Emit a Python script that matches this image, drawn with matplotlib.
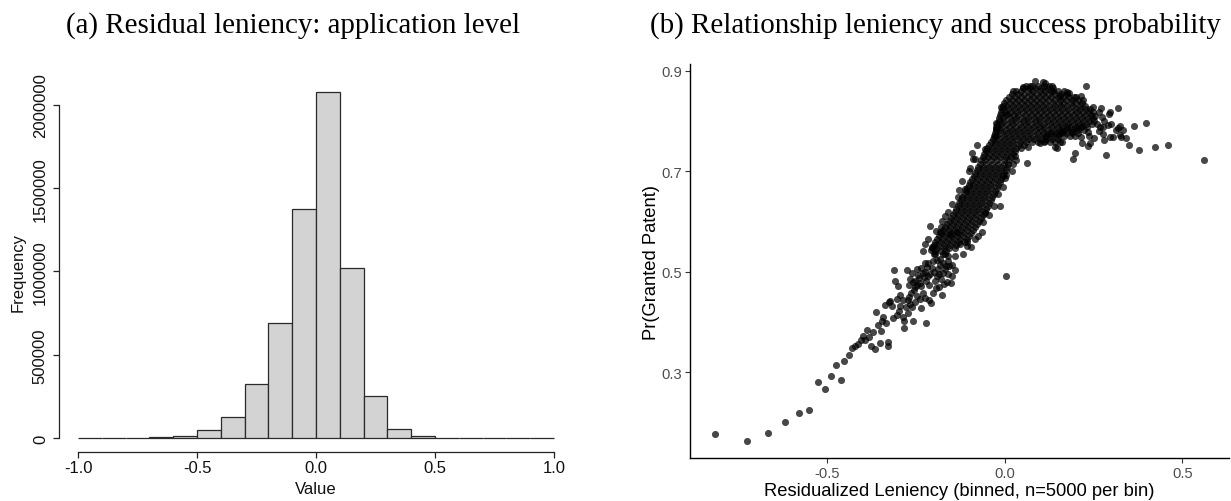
import matplotlib
matplotlib.use("Agg")
import matplotlib.pyplot as plt
import numpy as np

# ---------------- Panel (a): histogram of residual leniency ----------------
bin_edges = [-1.0, -0.9, -0.8, -0.7, -0.6, -0.5, -0.4, -0.3, -0.2, -0.1, 0.0,
             0.1, 0.2, 0.3, 0.4, 0.5, 0.6, 0.7, 0.8, 0.9, 1.0]
bin_counts = [0, 3000, 3000, 6000, 14000, 48000, 126000, 324000, 691000, 1375000,
              2078000, 1023000, 252000, 52000, 12000, 2000, 0, 0, 0, 0]
hist_xticks = [-1.0, -0.5, 0.0, 0.5, 1.0]
hist_xlabels = ["-1.0", "-0.5", "0.0", "0.5", "1.0"]
hist_yticks = [0, 500000, 1000000, 1500000, 2000000]
hist_ylabels = ["0", "500000", "1000000", "1500000", "2000000"]

# ---------------- Panel (b): binned leniency vs. grant probability ----------------
# sparse lower tail
tail_bins = [
    (-0.817, 0.177), (-0.726, 0.163), (-0.666, 0.179), (-0.619, 0.201), (-0.580, 0.218),
    (-0.551, 0.224), (-0.527, 0.280), (-0.507, 0.266), (-0.491, 0.293), (-0.476, 0.315),
    (-0.462, 0.285), (-0.452, 0.322), (-0.440, 0.334), (-0.430, 0.347), (-0.421, 0.352),
    (-0.413, 0.356), (-0.406, 0.364), (-0.401, 0.372), (-0.394, 0.364), (-0.389, 0.384),
    (-0.382, 0.369), (-0.377, 0.352), (-0.372, 0.379), (-0.366, 0.346), (-0.363, 0.419),
    (-0.358, 0.394), (-0.353, 0.358), (-0.349, 0.382), (-0.346, 0.402), (-0.343, 0.409),
    (-0.338, 0.433), (-0.335, 0.397), (-0.330, 0.352), (-0.329, 0.359), (-0.326, 0.440),
]

# rising band, individually visible bins
band_bins = [
    (-0.324, 0.441), (-0.315, 0.407), (-0.319, 0.432), (-0.305, 0.413), (-0.298, 0.422),
    (-0.285, 0.388), (-0.285, 0.402), (-0.288, 0.410), (-0.273, 0.417), (-0.258, 0.402),
    (-0.263, 0.429), (-0.237, 0.427), (-0.223, 0.398), (-0.296, 0.454), (-0.288, 0.443),
    (-0.274, 0.443), (-0.270, 0.450), (-0.265, 0.457), (-0.256, 0.463), (-0.248, 0.474),
    (-0.249, 0.452), (-0.232, 0.457), (-0.213, 0.444), (-0.209, 0.437), (-0.202, 0.457),
    (-0.185, 0.469), (-0.177, 0.453), (-0.164, 0.479), (-0.153, 0.477), (-0.140, 0.504),
    (-0.150, 0.492), (-0.313, 0.503), (-0.277, 0.504), (-0.310, 0.482), (-0.301, 0.472),
    (-0.268, 0.486), (-0.254, 0.482), (-0.239, 0.478), (-0.221, 0.482), (-0.216, 0.518),
    (-0.206, 0.508), (-0.192, 0.492), (-0.188, 0.505), (-0.174, 0.498), (-0.166, 0.512),
    (-0.160, 0.495), (-0.247, 0.505), (-0.237, 0.508), (-0.225, 0.500), (-0.241, 0.488),
    (-0.262, 0.497), (-0.228, 0.489), (-0.211, 0.495), (-0.197, 0.481), (-0.180, 0.485),
    (-0.203, 0.521), (-0.183, 0.513), (-0.259, 0.479), (-0.220, 0.509), (-0.172, 0.475),
    (-0.270, 0.473), (-0.161, 0.521), (-0.149, 0.513),
    (-0.245, 0.494), (-0.231, 0.497), (-0.217, 0.491), (-0.200, 0.499), (-0.186, 0.496),
    (-0.170, 0.505), (-0.252, 0.469), (-0.236, 0.471), (-0.215, 0.473), (-0.195, 0.468),
    (-0.226, 0.518), (-0.192, 0.522), (-0.175, 0.518), (-0.280, 0.430), (-0.268, 0.436),
    (-0.252, 0.440), (-0.240, 0.445), (-0.225, 0.448), (-0.296, 0.432), (-0.305, 0.445),
    (-0.216, 0.565), (-0.208, 0.543), (-0.197, 0.535), (-0.183, 0.525), (-0.174, 0.535),
    (-0.161, 0.530), (-0.157, 0.512), (-0.127, 0.555), (-0.108, 0.558), (-0.085, 0.565),
    (-0.183, 0.578), (-0.155, 0.575), (-0.136, 0.578), (-0.211, 0.590), (-0.206, 0.548),
    (-0.169, 0.611), (-0.179, 0.588), (-0.141, 0.531), (-0.107, 0.551), (-0.160, 0.618),
    (-0.132, 0.648), (-0.113, 0.664), (-0.089, 0.724), (-0.061, 0.598), (-0.066, 0.579),
    (-0.055, 0.616), (-0.014, 0.630), (0.000, 0.687), (0.003, 0.693), (-0.080, 0.752),
    (-0.085, 0.724), (-0.099, 0.707), (-0.056, 0.744), (0.003, 0.492),
    (-0.120, 0.680), (-0.128, 0.662), (-0.100, 0.700), (-0.093, 0.735), (-0.150, 0.635),
    (-0.178, 0.600), (-0.195, 0.580), (-0.225, 0.555), (-0.230, 0.540), (-0.020, 0.655),
    (-0.005, 0.668), (-0.030, 0.630), (-0.045, 0.612), (-0.075, 0.570), (-0.095, 0.548),
    (-0.118, 0.535), (0.020, 0.700), (0.030, 0.722),
]

# edge of the peak and the upper tail
peak_bins = [
    (0.085, 0.880), (0.106, 0.877), (0.052, 0.867), (0.023, 0.860), (0.070, 0.870),
    (0.132, 0.870), (0.136, 0.860), (0.155, 0.850), (0.174, 0.857), (-0.011, 0.828),
    (0.005, 0.813), (-0.023, 0.787), (-0.028, 0.770), (0.061, 0.717), (0.023, 0.714),
    (0.028, 0.730), (0.066, 0.747), (0.099, 0.755), (0.113, 0.760), (0.141, 0.747),
    (0.155, 0.757), (0.150, 0.774), (0.174, 0.787), (0.181, 0.855), (0.200, 0.847),
    (0.221, 0.842), (0.227, 0.870), (0.249, 0.827), (0.266, 0.818), (0.296, 0.818),
    (0.317, 0.825), (0.272, 0.807), (0.258, 0.794), (0.268, 0.787), (0.291, 0.792),
    (0.277, 0.774), (0.305, 0.767), (0.280, 0.762), (0.252, 0.766), (0.235, 0.777),
    (0.213, 0.767), (0.217, 0.756), (0.235, 0.750), (0.197, 0.736), (0.192, 0.724),
    (0.285, 0.732), (0.313, 0.782), (0.324, 0.789), (0.332, 0.782), (0.341, 0.765),
    (0.350, 0.752), (0.363, 0.790), (0.377, 0.742), (0.397, 0.796), (0.423, 0.747),
    (0.460, 0.752), (0.561, 0.722), (0.160, 0.758), (0.164, 0.780), (-0.025, 0.796),
    (-0.025, 0.784), (0.237, 0.770), (0.296, 0.767), (0.265, 0.780), (0.276, 0.788),
    (0.254, 0.810), (0.279, 0.800), (0.299, 0.794), (0.318, 0.785), (0.328, 0.768),
    (0.239, 0.755), (0.146, 0.746), (0.117, 0.769), (0.130, 0.776), (0.158, 0.777),
    (0.189, 0.777), (0.203, 0.786), (0.217, 0.790), (0.114, 0.876), (0.214, 0.850),
    (0.293, 0.813), (0.249, 0.817), (0.270, 0.825), (0.324, 0.771),
]

# dense core: (Pr(granted), [leniency values of the bins at that level])
core_rows = [
    (0.870, [0.058, 0.075, 0.092, 0.109, 0.124]),
    (0.865, [0.050, 0.067, 0.084, 0.101, 0.118, 0.134]),
    (0.859, [0.030, 0.046, 0.064, 0.080, 0.098, 0.114, 0.131, 0.148, 0.165]),
    (0.853, [0.020, 0.038, 0.055, 0.072, 0.089, 0.106, 0.123, 0.140, 0.157, 0.174]),
    (0.847, [0.011, 0.029, 0.045, 0.063, 0.080, 0.096, 0.114, 0.130, 0.148, 0.164, 0.181, 0.195]),
    (0.841, [0.003, 0.020, 0.037, 0.054, 0.071, 0.088, 0.105, 0.122, 0.139, 0.156, 0.173,
             0.190, 0.207]),
    (0.835, [-0.003, 0.015, 0.031, 0.049, 0.066, 0.082, 0.100, 0.116, 0.134, 0.151, 0.167,
             0.185, 0.201, 0.216]),
    (0.829, [-0.006, 0.006, 0.023, 0.040, 0.057, 0.074, 0.091, 0.108, 0.125, 0.142, 0.159,
             0.176, 0.193, 0.210, 0.226]),
    (0.823, [-0.008, 0.009, 0.025, 0.043, 0.060, 0.077, 0.093, 0.111, 0.127, 0.145, 0.162,
             0.178, 0.196, 0.212, 0.229, 0.240]),
    (0.817, [-0.011, 0.000, 0.017, 0.034, 0.051, 0.068, 0.085, 0.102, 0.119, 0.136, 0.153,
             0.170, 0.187, 0.204, 0.221, 0.236]),
    (0.811, [-0.013, 0.004, 0.022, 0.038, 0.056, 0.072, 0.090, 0.106, 0.124, 0.141, 0.157,
             0.175, 0.191, 0.209, 0.225, 0.243]),
    (0.805, [-0.016, -0.005, 0.013, 0.030, 0.047, 0.064, 0.081, 0.098, 0.115, 0.132, 0.149,
             0.166, 0.183, 0.200, 0.217, 0.234, 0.248]),
    (0.799, [-0.018, -0.002, 0.016, 0.032, 0.050, 0.066, 0.084, 0.100, 0.118, 0.134, 0.152,
             0.168, 0.186, 0.202, 0.220, 0.236, 0.251]),
    (0.793, [-0.021, -0.010, 0.007, 0.024, 0.041, 0.058, 0.075, 0.092, 0.109, 0.126, 0.143,
             0.160, 0.177, 0.194, 0.211, 0.228, 0.244]),
    (0.787, [-0.024, -0.007, 0.011, 0.027, 0.044, 0.061, 0.078, 0.095, 0.111, 0.129, 0.146,
             0.162, 0.180, 0.197, 0.213, 0.231]),
    (0.781, [-0.026, -0.015, 0.002, 0.019, 0.036, 0.053, 0.070, 0.087, 0.104, 0.121, 0.138,
             0.155, 0.172, 0.189, 0.206, 0.222]),
    (0.775, [-0.029, -0.013, 0.004, 0.021, 0.038, 0.055, 0.071, 0.089, 0.106, 0.122, 0.140,
             0.157, 0.173, 0.190, 0.207]),
    (0.769, [-0.032, -0.021, -0.004, 0.013, 0.030, 0.047, 0.064, 0.081, 0.098, 0.115, 0.132,
             0.149, 0.166, 0.183, 0.198]),
    (0.763, [-0.035, -0.019, -0.002, 0.015, 0.032, 0.048, 0.066, 0.083, 0.099, 0.117, 0.133, 0.150]),
    (0.757, [-0.040, -0.027, -0.010, 0.007, 0.024, 0.041, 0.058, 0.075, 0.092, 0.109, 0.126, 0.142]),
    (0.751, [-0.046, -0.029, -0.012, 0.005, 0.022, 0.039, 0.054]),
    (0.745, [-0.050, -0.037, -0.020, -0.004, 0.013, 0.030, 0.045]),
    (0.739, [-0.054, -0.037, -0.020, -0.003, 0.013, 0.027]),
    (0.733, [-0.058, -0.045, -0.028, -0.011, 0.006, 0.022]),
    (0.727, [-0.063, -0.047, -0.030, -0.013, 0.004, 0.018]),
    (0.721, [-0.067, -0.055, -0.038, -0.021, -0.004, 0.012]),
    (0.715, [-0.071, -0.054, -0.037, -0.020, -0.004, 0.010]),
    (0.709, [-0.075, -0.062, -0.045, -0.028, -0.011, 0.005]),
    (0.703, [-0.080, -0.063, -0.046, -0.029, -0.012, 0.002]),
    (0.697, [-0.084, -0.071, -0.054, -0.037, -0.020, -0.003]),
    (0.691, [-0.088, -0.071, -0.054, -0.037, -0.020, -0.005]),
    (0.685, [-0.093, -0.079, -0.062, -0.045, -0.028, -0.010]),
    (0.679, [-0.098, -0.082, -0.065, -0.048, -0.031, -0.014]),
    (0.673, [-0.102, -0.090, -0.073, -0.056, -0.039, -0.019]),
    (0.667, [-0.107, -0.091, -0.074, -0.057, -0.040, -0.023]),
    (0.661, [-0.111, -0.099, -0.082, -0.065, -0.048, -0.028]),
    (0.655, [-0.116, -0.099, -0.082, -0.065, -0.048, -0.032]),
    (0.649, [-0.120, -0.107, -0.090, -0.073, -0.056, -0.036]),
    (0.643, [-0.124, -0.108, -0.091, -0.074, -0.057, -0.040]),
    (0.637, [-0.128, -0.116, -0.099, -0.082, -0.065, -0.044]),
    (0.631, [-0.133, -0.116, -0.099, -0.082, -0.065, -0.048]),
    (0.625, [-0.137, -0.124, -0.107, -0.090, -0.073, -0.053]),
    (0.619, [-0.141, -0.124, -0.107, -0.090, -0.073, -0.057]),
    (0.613, [-0.146, -0.132, -0.115, -0.098, -0.081, -0.062]),
    (0.607, [-0.152, -0.136, -0.119, -0.102, -0.085, -0.068]),
    (0.601, [-0.157, -0.144, -0.127, -0.110, -0.093, -0.074]),
    (0.595, [-0.163, -0.147, -0.130, -0.113, -0.096, -0.080]),
    (0.589, [-0.168, -0.155, -0.138, -0.121, -0.104, -0.085]),
    (0.583, [-0.174, -0.158, -0.141, -0.124, -0.107, -0.090]),
    (0.577, [-0.179, -0.166, -0.149, -0.132, -0.115, -0.096]),
    (0.571, [-0.185, -0.169, -0.152, -0.135, -0.118, -0.101]),
    (0.565, [-0.190, -0.177, -0.160, -0.143, -0.126, -0.107]),
    (0.559, [-0.196, -0.180, -0.163, -0.146, -0.129, -0.113]),
    (0.553, [-0.201, -0.188, -0.171, -0.154, -0.137]),
    (0.547, [-0.206, -0.190, -0.173, -0.157, -0.140]),
    (0.541, [-0.198, -0.181, -0.165]),
    (0.535, [-0.200, -0.168]),
]

scatter_xticks = [-0.5, 0.0, 0.5]
scatter_xlabels = ["-0.5", "0.0", "0.5"]
scatter_yticks = [0.3, 0.5, 0.7, 0.9]
scatter_ylabels = ["0.3", "0.5", "0.7", "0.9"]

# ---------------- figure ----------------
W, H = 1231, 502
fig = plt.figure(figsize=(W / 100, H / 100), dpi=100)
fig.patch.set_facecolor("white")
SANS = "Liberation Sans"
SERIF = "Liberation Serif"


def frac_box(left, top, right, bottom):
    return [left / W, (H - bottom) / H, (right - left) / W, (bottom - top) / H]


# (a) base-graphics style histogram
ax1 = fig.add_axes(frac_box(59, 79, 573, 453))
edges = np.array(bin_edges)
ax1.bar(edges[:-1], bin_counts, width=np.diff(edges), align="edge",
        color="#d3d3d3", edgecolor="#2a2a2a", linewidth=0.9)
peak = max(bin_counts)
ax1.set_xlim(-1.08, 1.08)
ax1.set_ylim(-0.04 * peak, 1.04 * peak)
for side in ("top", "right"):
    ax1.spines[side].set_visible(False)
ax1.spines["left"].set_bounds(hist_yticks[0], hist_yticks[-1])
ax1.spines["bottom"].set_bounds(hist_xticks[0], hist_xticks[-1])
for side in ("left", "bottom"):
    ax1.spines[side].set_linewidth(0.9)
    ax1.spines[side].set_color("#222222")
ax1.set_xticks(hist_xticks)
ax1.set_xticklabels(hist_xlabels, fontsize=12, family=SANS)
ax1.set_yticks(hist_yticks)
ax1.set_yticklabels(hist_ylabels, fontsize=12, family=SANS, rotation=90, va="center")
ax1.tick_params(axis="both", direction="out", length=4.5, width=0.9, color="#222222",
                labelcolor="#111111")
ax1.tick_params(axis="x", pad=1.5)
ax1.tick_params(axis="y", pad=3.5)
fig.text(316 / W, (H - 490) / H, "Value", ha="center", va="center",
         fontsize=12, family=SANS, color="#111111")
fig.text(18 / W, (H - 272) / H, "Frequency", ha="center", va="center",
         rotation=90, fontsize=12, family=SANS, color="#111111")

# (b) ggplot classic-style scatter
xs, ys = [], []
for group in (tail_bins, band_bins, peak_bins):
    for x, y in group:
        xs.append(x)
        ys.append(y)
for y, row in core_rows:
    for x in row:
        xs.append(x)
        ys.append(y)

ax2 = fig.add_axes(frac_box(690, 65, 1229, 459))
ax2.scatter(xs, ys, s=26, c="black", alpha=0.72, linewidths=0)
ax2.set_xlim(-0.887, 0.631)
ax2.set_ylim(0.129, 0.913)
for side in ("top", "right"):
    ax2.spines[side].set_visible(False)
for side in ("left", "bottom"):
    ax2.spines[side].set_linewidth(1.0)
    ax2.spines[side].set_color("black")
ax2.set_xticks(scatter_xticks)
ax2.set_xticklabels(scatter_xlabels, fontsize=10.6, family=SANS)
ax2.set_yticks(scatter_yticks)
ax2.set_yticklabels(scatter_ylabels, fontsize=10.6, family=SANS)
ax2.tick_params(axis="both", direction="out", length=3.3, width=0.8, color="#333333",
                labelcolor="#4d4d4d", pad=2.2)
fig.text(959.5 / W, (H - 492) / H, "Residualized Leniency (binned, n=5000 per bin)",
         ha="center", va="center", fontsize=13.2, family=SANS, color="black")
fig.text(652 / W, (H - 262) / H, "Pr(Granted Patent)", ha="center", va="center",
         rotation=90, fontsize=13.2, family=SANS, color="black")

# panel titles, sized so their widths span the same as the typeset captions
titles = [
    ("(a) Residual leniency: application level", 293.5, 455),
    ("(b) Relationship leniency and success probability", 935.0, 571),
]
base = 18.0
renderer = fig.canvas.get_renderer()
for text, cx, target in titles:
    t = fig.text(cx / W, (H - 33) / H, text, ha="center", va="baseline",
                 fontsize=base, family=SERIF, color="black")
    w = t.get_window_extent(renderer=renderer).width
    t.set_fontsize(base * target / w)

fig.savefig("out.png", dpi=100, facecolor="white")
